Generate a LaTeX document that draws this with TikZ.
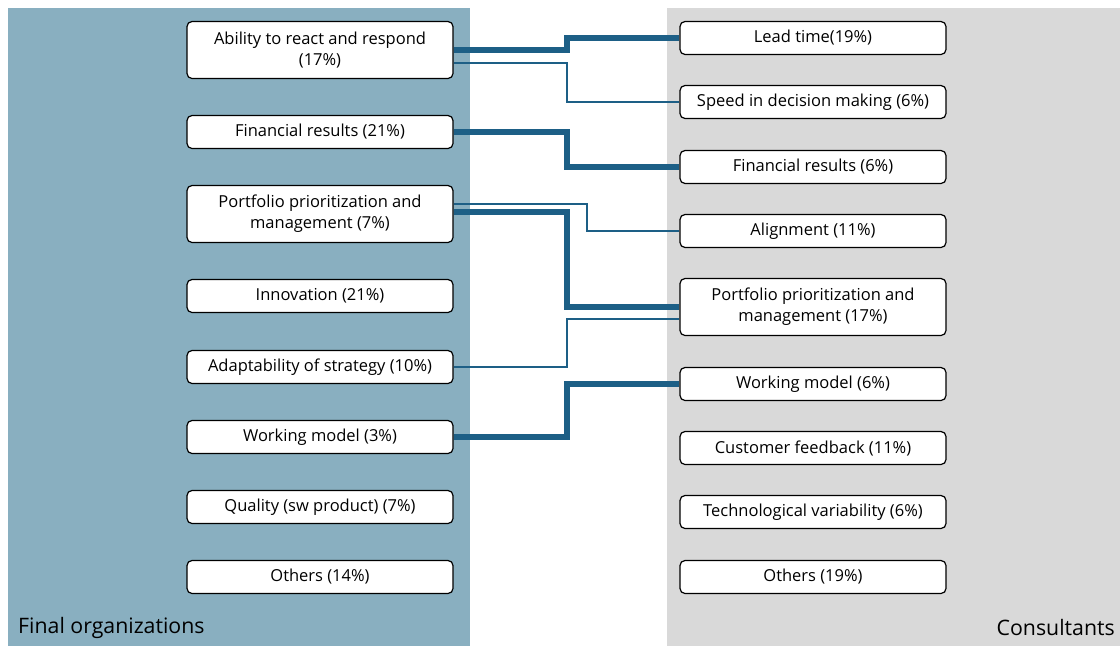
\documentclass[tikz,border=0pt]{standalone}
\usepackage{fontspec}
\setmainfont{Open Sans}
\definecolor{orgblue}{HTML}{89AFC0}
\definecolor{consgray}{HTML}{D9D9D9}
\definecolor{linkblue}{HTML}{1D5F86}
\tikzset{
  box/.style={draw=black,line width=1.2pt,fill=white,rounded corners=5pt,
    minimum width=266pt,minimum height=33pt,align=center,inner sep=2pt,
    font=\fontsize{16.5}{21}\selectfont},
  tallbox/.style={box,minimum height=57pt},
  thickcon/.style={draw=linkblue,line width=6pt},
  thincon/.style={draw=linkblue,line width=1.4pt},
  sidelabel/.style={font=\fontsize{21.3}{25}\selectfont,inner sep=0pt}
}
\begin{document}
\begin{tikzpicture}[x=1pt,y=-1pt]
\useasboundingbox (0,0) rectangle (1120,646);
\fill[orgblue] (8,8) rectangle (470,646);
\fill[consgray] (667,8) rectangle (1120,646);

% final organizations
\node[tallbox] (abil) at (320,50) {Ability to react and respond\\(17\%)};
\node[box] (fin) at (320,132) {Financial results (21\%)};
\node[tallbox] (port) at (320,214) {Portfolio prioritization and\\management (7\%)};
\node[box] (innov) at (320,296) {Innovation (21\%)};
\node[box] (adapt) at (320,367) {Adaptability of strategy (10\%)};
\node[box] (work) at (320,437) {Working model (3\%)};
\node[box] (qual) at (320,507) {Quality (sw product) (7\%)};
\node[box] (oth) at (320,577) {Others (14\%)};

% consultants
\node[box] (lead) at (813,38) {Lead time(19\%)};
\node[box] (speed) at (813,102) {Speed in decision making (6\%)};
\node[box] (cfin) at (813,167) {Financial results (6\%)};
\node[box] (align) at (813,231) {Alignment (11\%)};
\node[tallbox] (cport) at (813,307) {Portfolio prioritization and\\management (17\%)};
\node[box] (cwork) at (813,384) {Working model (6\%)};
\node[box] (cust) at (813,448) {Customer feedback (11\%)};
\node[box] (tech) at (813,512) {Technological variability (6\%)};
\node[box] (coth) at (813,577) {Others (19\%)};

\node[sidelabel,anchor=west] (orglab) at (18,628) {Final organizations};
\node[sidelabel,anchor=east] (conslab) at (1115,628) {Consultants};

% links
\coordinate (mid) at (567,0);
\coordinate (midb) at (587,0);
\path[thickcon] (abil.east) -- (abil.east -| mid) |- (lead.west);
\path[thincon] ([yshift=-13pt]abil.east) -- ([yshift=-13pt]abil.east -| mid) |- (speed.west);
\path[thickcon] (fin.east) -- (fin.east -| mid) |- (cfin.west);
\path[thincon] ([yshift=10pt]port.east) -- ([yshift=10pt]port.east -| midb) |- (align.west);
\path[thickcon] ([yshift=2pt]port.east) -- ([yshift=2pt]port.east -| mid) |- (cport.west);
\path[thincon] (adapt.east) -- (adapt.east -| mid) |- ([yshift=-12pt]cport.west);
\path[thickcon] (work.east) -- (work.east -| mid) |- (cwork.west);
\end{tikzpicture}
\end{document}
